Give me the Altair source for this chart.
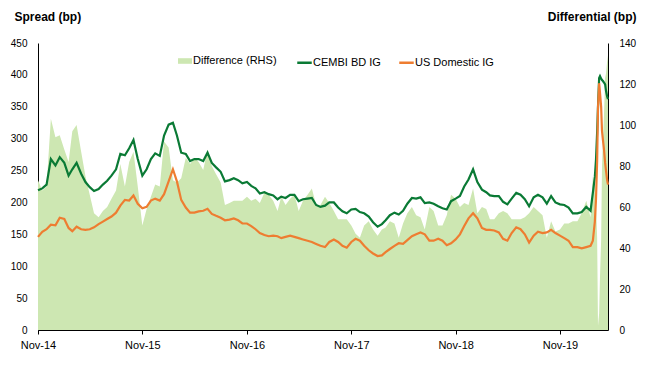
import altair as alt
import pandas as pd

# semi-monthly grid Nov-2014 .. Dec-2019, then finer dates in 2020
months = [(2014, 11), (2014, 12)] + [(y, m) for y in range(2015, 2020) for m in range(1, 13)]
base_dates = [f"{y}-{m:02d}-{d:02d}" for (y, m) in months for d in (1, 16)]
dates_2020 = ["2020-01-01", "2020-01-16", "2020-02-01", "2020-02-16", "2020-02-24",
              "2020-03-02", "2020-03-06", "2020-03-10", "2020-03-13", "2020-03-17",
              "2020-03-20", "2020-03-24", "2020-03-27", "2020-03-31", "2020-04-03",
              "2020-04-07", "2020-04-10", "2020-04-14", "2020-04-17"]
dates = base_dates + dates_2020

cembi = [219, 222, 228, 268, 258, 271, 262, 242, 252, 262,
         245, 232, 224, 218, 221, 228, 234, 242, 252, 276,
         274, 285, 298, 268, 242, 252, 268, 277, 273, 305,
         322, 325, 305, 278, 276, 265, 268, 268, 265, 278,
         262, 255, 248, 233, 235, 238, 235, 230, 232, 226,
         222, 214, 216, 213, 211, 205, 209, 207, 212, 212,
         202, 205, 206, 207, 196, 193, 195, 200, 200, 192,
         186, 183, 189, 190, 185, 183, 178, 169, 162, 166,
         172, 180, 184, 181, 187, 198, 207, 206, 208, 199,
         200, 198, 194, 191, 189, 202, 206, 210, 225, 236,
         252, 232, 220, 216, 211, 210, 210, 201, 197, 206,
         215, 212, 205, 194, 208, 212, 208, 198, 210, 200,
         197, 196, 192, 183,
         183, 185, 193, 187, 215, 240, 267, 310, 350, 395,
         398, 394, 392, 390, 388, 385, 375, 366, 362]

us_ig = [146, 154, 158, 165, 164, 176, 174, 160, 155, 162,
         158, 157, 158, 161, 166, 170, 174, 178, 184, 195,
         204, 203, 211, 198, 191, 193, 203, 206, 203, 213,
         233, 252, 233, 204, 192, 184, 184, 186, 187, 190,
         182, 179, 176, 172, 173, 175, 172, 167, 167, 163,
         158, 152, 149, 147, 148, 147, 144, 146, 148, 146,
         144, 142, 140, 138, 135, 132, 130, 138, 142, 138,
         132, 129, 138, 143, 140, 132, 125, 120, 116, 117,
         122, 127, 132, 136, 135, 141, 147, 150, 153, 150,
         140, 140, 143, 140, 133, 136, 142, 150, 163, 175,
         183, 175, 160, 157, 157, 156, 153, 143, 140, 152,
         161, 158, 150, 137, 148, 154, 152, 153, 157, 152,
         148, 144, 140, 130,
         130, 128, 130, 132, 140, 170, 205, 265, 348, 387,
         372, 350, 312, 295, 283, 262, 250, 235, 228]

series_names = ["CEMBI BD IG", "US Domestic IG"]
area_name = "Difference (RHS)"
tick_years = [2014, 2015, 2016, 2017, 2018, 2019]

FONT = "Liberation Sans"
AREA_C = "#cde7b2"
CEMBI_C = "#0a7a35"
US_C = "#ee7d31"

dt = pd.to_datetime(dates)
df_area = pd.DataFrame({"date": dt, "diff": [c - u for c, u in zip(cembi, us_ig)], "series": area_name})
df_lines = pd.concat([
    pd.DataFrame({"date": dt, "value": cembi, "series": series_names[0]}),
    pd.DataFrame({"date": dt, "value": us_ig, "series": series_names[1]}),
])

x_scale = alt.Scale(domain=[alt.DateTime(year=2014, month=11, date=1),
                            alt.DateTime(year=2020, month=4, date=17)], nice=False)
x_axis = alt.Axis(values=[alt.DateTime(year=y, month=11, date=1) for y in tick_years],
                  format="%b-%y", title=None, ticks=True, tickSize=4, tickColor="#000",
                  domainColor="#000", labelPadding=5, labelFontSize=11, labelColor="#000",
                  labelFlush=False)

area = alt.Chart(df_area).mark_area(clip=True, opacity=1).encode(
    x=alt.X("date:T", scale=x_scale, axis=x_axis),
    y=alt.Y("diff:Q", scale=alt.Scale(domain=[0, 140], nice=False),
            axis=alt.Axis(orient="right", values=list(range(0, 141, 20)), title="Differential (bp)",
                          titleAngle=0, titleAlign="right", titleBaseline="alphabetic",
                          titleX=28, titleY=-23, titleFontSize=12, titleFontWeight="bold",
                          ticks=False, labelPadding=11, domainColor="#000")),
    fill=alt.Fill("series:N", scale=alt.Scale(domain=[area_name], range=[AREA_C]),
                  legend=alt.Legend(title=None, orient="none", legendX=140, legendY=11,
                                    symbolType="M-1,-0.4H1V0.4H-1Z", symbolSize=196,
                                    symbolStrokeWidth=0, symbolOpacity=1, labelOffset=1,
                                    labelFontSize=11, labelColor="#000", padding=0)),
)

lines = alt.Chart(df_lines).mark_line(strokeWidth=2.2).encode(
    x=alt.X("date:T", scale=x_scale),
    y=alt.Y("value:Q", scale=alt.Scale(domain=[0, 450], nice=False),
            axis=alt.Axis(orient="left", values=list(range(0, 451, 50)), title="Spread (bp)",
                          titleAngle=0, titleAlign="left", titleBaseline="alphabetic",
                          titleX=-24, titleY=-23, titleFontSize=12, titleFontWeight="bold",
                          ticks=False, labelPadding=11, domainColor="#000")),
    stroke=alt.Stroke("series:N", scale=alt.Scale(domain=series_names, range=[CEMBI_C, US_C]),
                      legend=alt.Legend(title=None, orient="none", legendX=258, legendY=11,
                                        direction="horizontal", symbolType="stroke",
                                        symbolSize=210, symbolStrokeWidth=2.5, labelOffset=0,
                                        columnPadding=13, labelFontSize=11, labelColor="#000",
                                        padding=0)),
)

chart = alt.layer(area, lines).resolve_scale(y="independent").properties(
    width=570, height=287,
    padding={"left": 30, "top": 35, "right": 30, "bottom": 20},
    autosize=alt.AutoSizeParams(type="none"),
).configure_view(stroke=None).configure_axis(
    grid=False, labelFont=FONT, titleFont=FONT, labelColor="#000", titleColor="#000",
    domainWidth=1,
).configure_legend(labelFont=FONT)

chart.save("out.html", embed_options={"renderer": "svg", "actions": False})
